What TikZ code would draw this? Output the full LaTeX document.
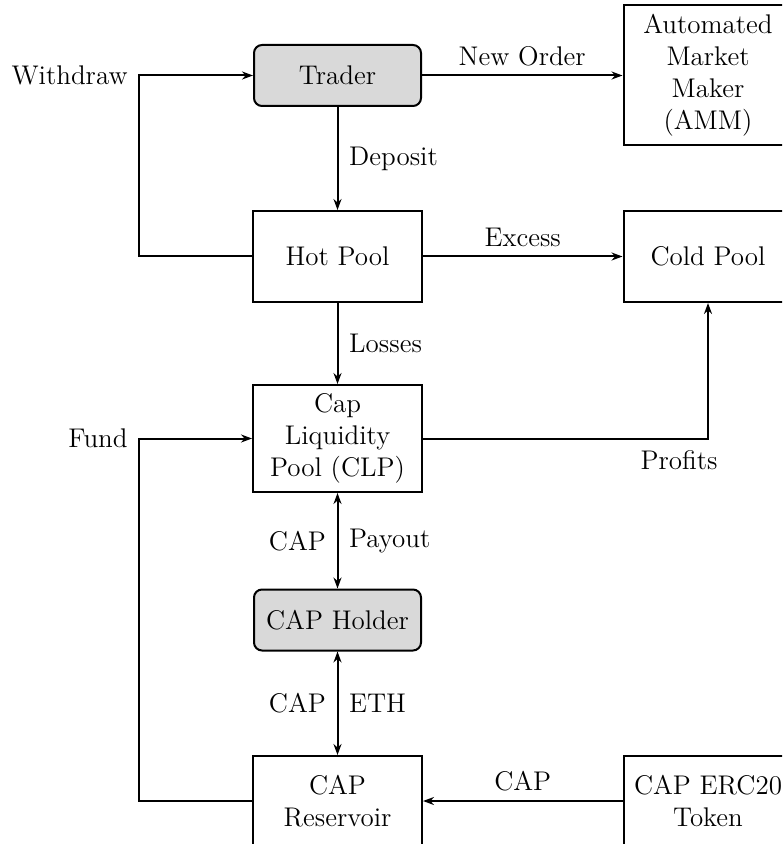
\documentclass[tikz,border=0pt]{standalone}
\usetikzlibrary{arrows.meta}
\begin{document}
\begin{tikzpicture}[x=0.5pt,y=-0.5pt,
  txt/.style={font=\fontsize{13.5}{16}\selectfont},
  box/.style={txt, draw, line width=1pt, align=center, minimum width=84.5pt, inner sep=0pt},
  actor/.style={box, fill=gray!30, rounded corners=4pt, minimum width=83.5pt, minimum height=30.5pt},
  arr/.style={line width=1pt, -{Stealth[length=5.5pt,width=4pt]}},
  darr/.style={line width=1pt, {Stealth[length=5.5pt,width=4pt]}-{Stealth[length=5.5pt,width=4pt]}},
  lbl/.style={txt}]
\clip (0,0) rectangle (782,844);
\node[actor] (trader) at (337.5,75.5) {Trader};
\node[box, minimum height=45.5pt] (hot) at (337.5,256.5) {Hot Pool};
\node[box, minimum height=53.5pt] (clp) at (337.5,438.5) {Cap\\Liquidity\\Pool (CLP)};
\node[actor] (holder) at (337.5,620) {CAP Holder};
\node[box, minimum height=45pt] (res) at (337.5,801) {CAP\\Reservoir};
\node[box, minimum height=70pt] (amm) at (708,75) {Automated\\Market\\Maker\\(AMM)};
\node[box, minimum height=45.5pt] (cold) at (708,256.5) {Cold Pool};
\node[box, minimum height=45pt] (token) at (708,801) {CAP ERC20\\Token};
\coordinate (wc) at (139,75.5);
\coordinate (fc) at (139,438.5);
\coordinate (pc) at (708,438.5);
\draw[arr] (trader) -- node[lbl, right=2pt] {Deposit} (hot);
\draw[arr] (trader) -- node[lbl, above=1pt] {New Order} (amm.west |- trader);
\draw[arr] (hot) -- node[lbl, above=1pt] {Excess} (cold);
\draw[arr] (hot) -- node[lbl, right=2pt] {Losses} (clp);
\draw[arr] (hot.west) -| (wc) -- (trader.west);
\node[lbl, anchor=east, inner sep=0pt] at (128,75.5) {Withdraw};
\draw[arr] (res.west) -| (fc) -- (clp.west);
\node[lbl, anchor=east, inner sep=0pt] at (128,438.5) {Fund};
\draw[arr] (clp.east) -- (pc) -- (cold.south);
\node[lbl] at (679,460) {Profits};
\draw[darr] (clp) -- node[lbl, right=2pt] {Payout} node[lbl, left=2pt] {CAP} (holder);
\draw[darr] (holder) -- node[lbl, right=2pt] {ETH} node[lbl, left=2pt] {CAP} (res);
\draw[arr] (token) -- node[lbl, above=1pt] {CAP} (res);
\end{tikzpicture}
\end{document}
